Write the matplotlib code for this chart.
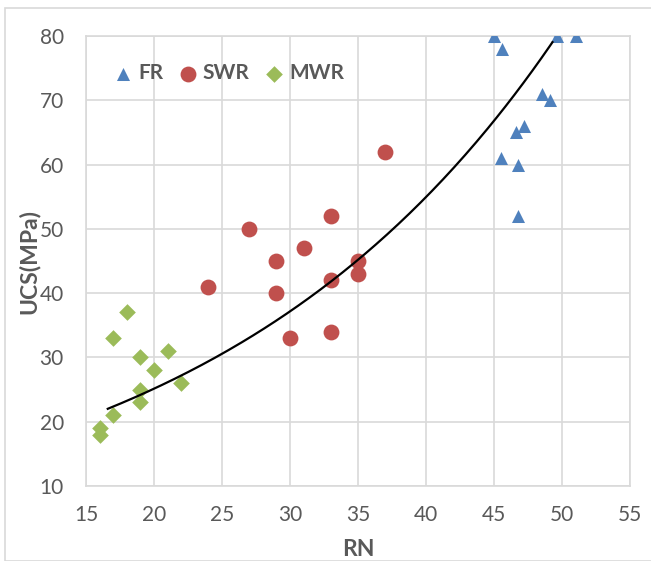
import numpy as np
import matplotlib
matplotlib.use("Agg")
import matplotlib.pyplot as plt
from matplotlib.patches import Rectangle

fr_x = [45, 45.6, 49.6, 51, 48.5, 49.1, 46.6, 47.2, 45.5, 46.8, 46.8]
fr_y = [80, 78, 80, 80, 71, 70, 65, 66, 61, 60, 52]
swr_x = [37, 33, 27, 31, 29, 35, 35, 33, 24, 29, 33, 30]
swr_y = [62, 52, 50, 47, 45, 45, 43, 42, 41, 40, 34, 33]
mwr_x = [18, 17, 21, 19, 20, 22, 19, 19, 17, 16, 16]
mwr_y = [37, 33, 31, 30, 28, 26, 25, 23, 21, 19, 18]
trend_a = 11.5
trend_b = 0.0391
trend_range = (16.6, 49.3)

x_ticks = [15, 20, 25, 30, 35, 40, 45, 50, 55]
y_ticks = [10, 20, 30, 40, 50, 60, 70, 80]

plt.rcParams['font.family'] = ['Lato', 'DejaVu Sans']
W, H = 651, 561
fig = plt.figure(figsize=(W/100, H/100), dpi=100)
fig.patches.append(Rectangle((5/W, 0), 1, 1 - 8/H, transform=fig.transFigure,
                             fill=False, edgecolor='#D9D9D9', linewidth=1.2))
ax = fig.add_axes([86/W, 1 - 486/H, (630-86)/W, (486-36)/H])

grid_c = '#D9D9D9'
text_c = '#595959'
ax.set_xlim(15, 55)
ax.set_ylim(10, 80)
ax.set_xticks(x_ticks)
ax.set_yticks(y_ticks)
ax.grid(True, color=grid_c, linewidth=1.2)
ax.set_axisbelow(True)
for s in ax.spines.values():
    s.set_color(grid_c)
    s.set_linewidth(1.2)
ax.tick_params(length=0, labelsize=15, labelcolor=text_c)
ax.tick_params(axis='x', pad=14)
ax.tick_params(axis='y', pad=16)

ax.scatter(fr_x, fr_y, marker='^', s=88, color='#4F81BD', label='FR', zorder=3, linewidths=0)
ax.scatter(swr_x, swr_y, marker='o', s=130, color='#C0504D', label='SWR', zorder=3, linewidths=0)
ax.scatter(mwr_x, mwr_y, marker='D', s=72, color='#9BBB59', label='MWR', zorder=3, linewidths=0)

tx = np.linspace(trend_range[0], trend_range[1], 200)
ax.plot(tx, trend_a * np.exp(trend_b * tx), color='black', linewidth=1.6, zorder=4)

leg = ax.legend(loc='center left', bbox_to_anchor=((115-86)/544, (486-73)/450), ncol=3,
                frameon=False, borderpad=0, borderaxespad=0,
                handlelength=0.8, handletextpad=0.3, columnspacing=0.8,
                prop={'weight': 'bold', 'size': 15})
for t in leg.get_texts():
    t.set_color(text_c)

ax.set_xlabel('RN', fontsize=16.5, fontweight='bold', color=text_c)
ax.set_ylabel('UCS(MPa)', fontsize=16.5, fontweight='bold', color=text_c)
ax.xaxis.set_label_coords(0.5, (486-549.5)/450)
ax.xaxis.label.set_va('center')
ax.yaxis.set_label_coords((29-86)/544, 0.5)
ax.yaxis.label.set_va('center')

fig.savefig('out.png', dpi=100)
